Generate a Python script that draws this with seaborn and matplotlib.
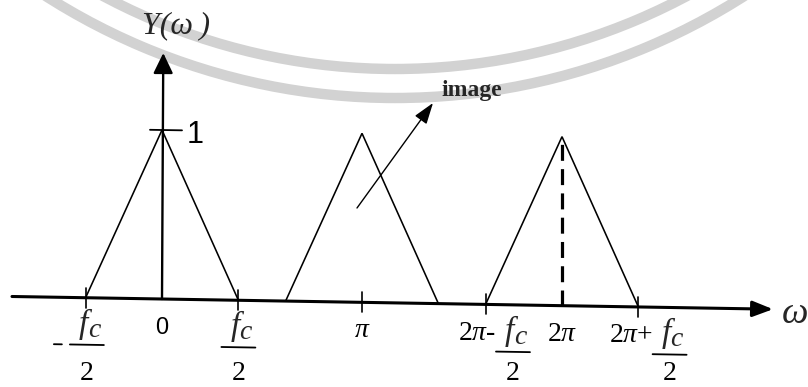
import numpy as np
import pandas as pd
import matplotlib
matplotlib.use("Agg")
import matplotlib.pyplot as plt
import matplotlib.transforms as mtransforms
from matplotlib.patches import Arc
import seaborn as sns

# ---- spectrum data -------------------------------------------------------
fc = 2.4                                   # cutoff in rad, bands span +-fc/2
band_centres = [0.0, np.pi, 2 * np.pi]
band_names = ["baseband", "image", "replica"]
peak_gain = 1.0

# ticks on the frequency axis that carry a fraction label  (prefix, fc/2)
frac_ticks = [-fc / 2, fc / 2, 2 * np.pi - fc / 2, 2 * np.pi + fc / 2]
frac_prefix = ["", "", "2$\\pi$-", "2$\\pi$+"]
frac_shift = [0.02, 0.0, 0.43, 0.49]       # fraction centre relative to tick (rad)
frac_num, frac_sub, frac_den = "f", "c", "2"

plain_ticks = [0.0, np.pi, 2 * np.pi]
plain_labels = ["0", "$\\pi$", "2$\\pi$"]

rows = []
for name, c in zip(band_names, band_centres):
    for w, y in zip([c - fc / 2, c, c + fc / 2], [0.0, peak_gain, 0.0]):
        rows.append({"omega": w, "Y": y, "band": name})
df = pd.DataFrame(rows)

# ---- style ----------------------------------------------------------------
sns.set_theme(style="white")
plt.rcParams.update({
    "font.family": ["Liberation Serif", "DejaVu Sans"],
    "mathtext.fontset": "custom",
    "mathtext.it": "Liberation Serif:italic",
    "mathtext.rm": "Liberation Serif",
    "mathtext.default": "it",
})

W, H = 808, 387
fig = plt.figure(figsize=(W / 100, H / 100), dpi=100)
ax = fig.add_axes([0, 0, 1, 1])

# scale: pixels per radian / per unit gain, origin position
S = 200 / np.pi
V = 169.0
X0, Y0 = 162.0, 299.0
ax.set_xlim(-X0 / S, (W - X0) / S)
ax.set_ylim(-(H - Y0) / V, Y0 / V)
ax.axis("off")


def pos(xp, yp):
    """figure pixel (from top-left) -> data coordinates"""
    return (xp - X0) / S, (Y0 - yp) / V


# the drawing sits on a slightly sloping baseline
k = 0.0167
x0_disp = ax.transData.transform((0, 0))[0]
shear = mtransforms.Affine2D(np.array([[1, 0, 0], [-k, 1, k * x0_disp], [0, 0, 1]]))
tilted = ax.transData + shear

# faint seal arcs in the background
cx, cy = pos(395, 69 - 620)
for R in (620, 649):
    ax.add_patch(Arc((cx, cy), 2 * R / S, 2 * R / V, theta1=200, theta2=340,
                     color="#d2d2d2", lw=7.5, zorder=0))

# triangular spectra
n_before = len(ax.lines)
sns.lineplot(data=df, x="omega", y="Y", units="band", estimator=None, sort=False,
             color="black", lw=1.15, ax=ax, legend=False)
for ln in ax.lines[n_before:]:
    ln.set_transform(tilted)
    ln.set_solid_joinstyle("miter")

# dashed marker at 2*pi
ax.plot([2 * np.pi, 2 * np.pi], [0, peak_gain], color="black", lw=2.3,
        dashes=(5, 2.6), transform=tilted)

# frequency axis with arrow
xl, _ = pos(12, 0)
xr, _ = pos(773, 0)
ax.annotate("", xy=(xr, 0), xytext=(xl, 0), xycoords=tilted, textcoords=tilted,
            arrowprops=dict(arrowstyle="-|>,head_length=0.62,head_width=0.24",
                            mutation_scale=20, lw=2.2, color="black",
                            shrinkA=0, shrinkB=0))
# gain axis with arrow
_, yt = pos(0, 53)
ax.annotate("", xy=(0.02, yt), xytext=(0, 0), xycoords=tilted, textcoords=tilted,
            arrowprops=dict(arrowstyle="-|>,head_length=0.62,head_width=0.3",
                            mutation_scale=20, lw=1.7, color="black",
                            shrinkA=0, shrinkB=0))

# tick marks
th = 10 / V
for t in frac_ticks + [np.pi]:
    ax.plot([t, t], [-th, th], color="black", lw=1.2, transform=tilted)
ax.plot([-12 / S, 20 / S], [peak_gain, peak_gain], color="black", lw=1.3,
        transform=tilted)

serif = dict(family="Liberation Serif", fontsize=20, color="black")
sans = dict(family="Liberation Sans", color="black")
ybase = (Y0 - 334) / V

# plain tick labels
for t, lab in zip(plain_ticks, plain_labels):
    kw = sans | dict(fontsize=17) if lab == "0" else serif
    ax.text(t, ybase, lab, ha="center", va="baseline", transform=tilted, **kw)

# fractional tick labels
half_bar = 17 / S
for t, pre, dx in zip(frac_ticks, frac_prefix, frac_shift):
    xc = t + dx
    ax.text(xc + 1 / S, ybase, frac_num, ha="right", va="baseline",
            transform=tilted, style="italic", family="Liberation Serif",
            fontsize=24)
    ax.text(xc + 1 / S, ybase - 4 / V, frac_sub, ha="left", va="baseline",
            transform=tilted, style="italic", family="Liberation Serif",
            fontsize=20)
    ax.plot([xc - half_bar, xc + half_bar], [(Y0 - 346) / V] * 2,
            color="black", lw=1.3, transform=tilted)
    ax.text(xc, (Y0 - 380) / V, frac_den, ha="center", va="baseline", **serif)
    if pre:
        ax.text(xc - half_bar, ybase, pre, ha="right", va="baseline",
                transform=tilted, **serif)
    if t < 0:
        ax.plot([xc - 33 / S, xc - 25 / S], [(Y0 - 346) / V] * 2,
                color="black", lw=1.3, transform=tilted)

# value of the peak
x1, y1 = pos(187, 143)
ax.text(x1, y1, "1", ha="left", va="baseline", fontsize=22, **sans)

# axis names
x, y = pos(176, 25.5)
ax.text(x, y, "Y(ω\u2009)", ha="center", va="center", style="italic",
        family="Liberation Serif", fontsize=23)
x, y = pos(795, 323)
ax.text(x, y, "ω", ha="center", va="baseline", style="italic",
        family="Liberation Serif", fontsize=27)

# annotation of the image band
x, y = pos(441, 96)
ax.text(x, y, "image", ha="left", va="baseline", family="Liberation Serif",
        fontsize=17, weight="bold")
ax.annotate("", xy=pos(433, 103), xytext=pos(357, 208),
            arrowprops=dict(arrowstyle="-|>,head_length=0.65,head_width=0.22",
                            mutation_scale=20, lw=1.0, color="black",
                            shrinkA=0, shrinkB=0))

fig.savefig("out.png", dpi=100, facecolor="white")
